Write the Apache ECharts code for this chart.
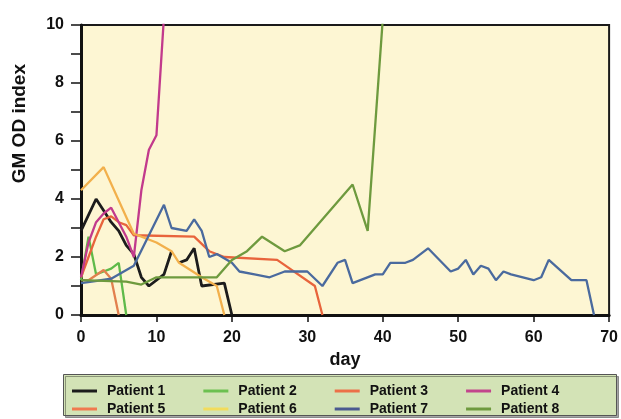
<!DOCTYPE html>
<html>
<head>
<meta charset="utf-8">
<script src="https://cdn.jsdelivr.net/npm/echarts@6/dist/echarts.min.js"></script>
<style>
  html, body { margin: 0; padding: 0; background: #fff; }
  #chart { width: 621px; height: 419px; }
</style>
</head>
<body>
<div id="chart"></div>
<script>
// [day, GM OD index] per patient
const patient1 = [[0, 2.9], [2, 4.0], [3, 3.6], [4, 3.2], [5, 2.9], [6, 2.4], [7, 2.1], [8, 1.3], [9, 1.0], [11, 1.4], [12, 2.2], [12.5, null], [13, 1.8], [14, 1.9], [15, 2.3], [16, 1.0], [19, 1.1], [20, 0]]
const patient2 = [[0, 1.2], [1, 2.7], [2, 1.4], [3, 1.5], [4, 1.6], [5, 1.8], [6, 0]]
const patient3 = [[0, 1.3], [1, 2.0], [2, 2.7], [3, 3.3], [4, 3.4], [5, 3.2], [6, 3.1], [7, 2.75], [15, 2.7], [17, 2.2], [19, 2.0], [26, 1.9], [31, 1.0], [32, 0]]
const patient4 = [[0, 1.3], [1, 2.5], [2, 3.2], [3, 3.5], [4, 3.7], [5, 3.2], [6, 2.7], [7, 2.0], [8, 4.3], [9, 5.7], [10, 6.2], [11, 10.3]]
const patient5 = [[0, 1.2], [1, 1.2], [3, 1.55], [4, 1.25], [5, 0]]
const patient6 = [[0, 4.3], [3, 5.1], [7, 2.8], [10, 2.5], [12, 2.2], [13, 1.8], [16, 1.3], [18, 1.0], [19, 0]]
const patient7 = [[0, 1.1], [4, 1.25], [7, 1.7], [11, 3.8], [12, 3.0], [14, 2.9], [15, 3.3], [16, 2.9], [17, 2.0], [18, 2.1], [20, 1.8], [21, 1.5], [23, 1.4], [25, 1.3], [27, 1.5], [30, 1.5], [32, 1.0], [34, 1.8], [35, 1.9], [36, 1.1], [39, 1.4], [40, 1.4], [41, 1.8], [43, 1.8], [44, 1.9], [46, 2.3], [49, 1.5], [50, 1.6], [51, 1.9], [52, 1.4], [53, 1.7], [54, 1.6], [55, 1.2], [56, 1.5], [57, 1.4], [60, 1.2], [61, 1.3], [62, 1.9], [65, 1.2], [67, 1.2], [68, 0]]
const patient8 = [[0, 1.2], [6, 1.15], [8, 1.05], [10, 1.3], [17, 1.3], [18, 1.3], [20, 1.9], [22, 2.2], [24, 2.7], [27, 2.2], [29, 2.4], [36, 4.5], [38, 2.9], [40, 10.2]]

const names = ['Patient 1', 'Patient 2', 'Patient 3', 'Patient 4', 'Patient 5', 'Patient 6', 'Patient 7', 'Patient 8']
const colors = ['#1c1c1c', '#5fba4a', '#e8643c', '#c23a8c', '#e2804e', '#f2b04c', '#4a6a9e', '#6e9a3e']
const legendColors = ['#1c1c1c', '#6cc050', '#ec7048', '#c2458c', '#f07a50', '#f2dc5c', '#4a5a90', '#6e9a3e']
const allData = [patient1, patient2, patient3, patient4, patient5, patient6, patient7, patient8]

const font = 'Liberation Sans, Arial, sans-serif'
const chart = echarts.init(document.getElementById('chart'))

const legendBase = {
  icon: 'rect',
  itemWidth: 25,
  itemHeight: 3,
  itemGap: 38,
  left: 67,
  textStyle: { fontFamily: font, fontWeight: 'bold', fontSize: 14, color: '#111', padding: [0, 0, 0, 5] }
}

chart.setOption({
  animation: false,
  grid: {
    left: 81,
    right: 11,
    top: 25,
    bottom: 104,
    show: true,
    backgroundColor: '#fdf6d3',
    borderColor: '#1a1a1a',
    borderWidth: 2
  },
  graphic: [
    {
      type: 'rect',
      left: 63,
      top: 374,
      shape: { width: 553, height: 41 },
      style: { fill: '#d3e3b6', stroke: '#555', lineWidth: 1, shadowColor: 'rgba(0,0,0,0.35)', shadowOffsetX: 2, shadowOffsetY: 2 },
      z: -1
    },
    {
      type: 'text',
      left: 10,
      top: 64,
      rotation: Math.PI / 2,
      style: { text: 'GM OD index', fontFamily: font, fontWeight: 'bold', fontSize: 19, fill: '#111' }
    }
  ],
  legend: [
    Object.assign({ top: 379, data: names.slice(0, 4).map((n, i) => ({ name: n, itemStyle: { color: legendColors[i] } })) }, legendBase),
    Object.assign({ top: 397, data: names.slice(4).map((n, i) => ({ name: n, itemStyle: { color: legendColors[i + 4] } })) }, legendBase)
  ],
  xAxis: {
    type: 'value',
    min: 0,
    max: 70,
    interval: 10,
    name: 'day',
    nameLocation: 'middle',
    nameGap: 36,
    nameTextStyle: { fontFamily: font, fontWeight: 'bold', fontSize: 18, color: '#111' },
    axisLine: { lineStyle: { color: '#111', width: 3 } },
    axisTick: { show: true, length: 7, lineStyle: { color: '#111', width: 1.5 } },
    axisLabel: { fontFamily: font, fontWeight: 'bold', fontSize: 16, color: '#111', margin: 15 },
    splitLine: { show: false }
  },
  yAxis: {
    type: 'value',
    min: 0,
    max: 10,
    interval: 1,
    axisLine: { show: true, lineStyle: { color: '#111', width: 3 } },
    axisTick: { show: true, length: 10, lineStyle: { color: '#111', width: 1.5 } },
    axisLabel: {
      fontFamily: font, fontWeight: 'bold', fontSize: 16, color: '#111', margin: 17,
      formatter: v => (v % 2 === 0 ? v : '')
    },
    splitLine: { show: false }
  },
  series: names.map((name, i) => ({
    name: name,
    type: 'line',
    data: allData[i],
    showSymbol: false,
    connectNulls: false,
    clip: true,
    lineStyle: { width: i === 0 ? 2.8 : 2.3, color: colors[i] },
    itemStyle: { color: colors[i] }
  }))
})
</script>
</body>
</html>
